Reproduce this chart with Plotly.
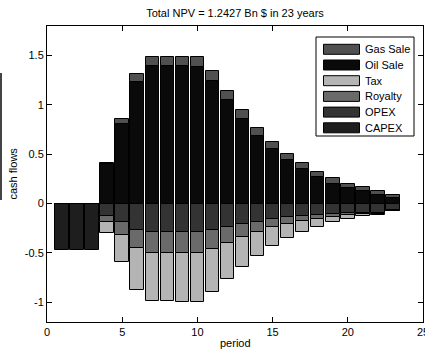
import plotly.graph_objects as go

periods = list(range(1, 24))
gas_sale = [0, 0, 0, 0.015, 0.05, 0.08, 0.095, 0.095, 0.095, 0.11, 0.10, 0.09, 0.09,
            0.08, 0.07, 0.06, 0.06, 0.055, 0.055, 0.045, 0.04, 0.045, 0.035]
oil_sale = [0, 0, 0, 0.40, 0.81, 1.23, 1.39, 1.39, 1.39, 1.38, 1.24, 1.05, 0.86,
            0.69, 0.55, 0.44, 0.35, 0.27, 0.20, 0.155, 0.125, 0.085, 0.055]
tax = [0, 0, 0, -0.11, -0.27, -0.43, -0.49, -0.49, -0.50, -0.50, -0.435, -0.365, -0.305,
       -0.243, -0.19, -0.14, -0.111, -0.08, -0.053, -0.037, -0.022, -0.014, -0.01]
royalty = [0, 0, 0, -0.06, -0.13, -0.18, -0.21, -0.21, -0.21, -0.21, -0.19, -0.155, -0.13,
           -0.097, -0.08, -0.07, -0.048, -0.04, -0.032, -0.02, -0.012, -0.006, -0.005]
opex = [0, 0, 0, -0.13, -0.19, -0.27, -0.29, -0.29, -0.29, -0.29, -0.27, -0.24, -0.21,
        -0.19, -0.16, -0.14, -0.128, -0.115, -0.105, -0.098, -0.095, -0.095, -0.065]
capex = [-0.47, -0.47, -0.47, 0, 0, 0, 0, 0, 0, 0, 0, 0, 0,
         0, 0, 0, 0, 0, 0, 0, 0, 0, 0]

legend_names = ["Gas Sale", "Oil Sale", "Tax", "Royalty", "OPEX", "CAPEX"]
colors = {"Gas Sale": "#505050", "Oil Sale": "#0a0a0a", "Tax": "#b4b4b4",
          "Royalty": "#6a6a6a", "OPEX": "#333333", "CAPEX": "#1e1e1e"}

x_ticks = [0, 5, 10, 15, 20, 25]
y_ticks = [-1, -0.5, 0, 0.5, 1, 1.5]
y_ticktext = ["-1", "-0.5", "0", "0.5", "1", "1.5"]

title_text = "Total NPV = 1.2427 Bn $ in 23 years"
x_title = "period"
y_title = "cash flows"

FONT = "Arial, Liberation Sans, sans-serif"
W, H = 425, 354
L, R, T, B = 47, 2, 26, 32

fig = go.Figure()
series = [("CAPEX", capex), ("OPEX", opex), ("Royalty", royalty), ("Tax", tax),
          ("Oil Sale", oil_sale), ("Gas Sale", gas_sale)]
for name, vals in series:
    fig.add_trace(go.Bar(
        x=periods, y=vals, name=name, width=0.9,
        marker=dict(color=colors[name], line=dict(color="#000000", width=1)),
        showlegend=False,
    ))

# custom legend in paper coordinates (pixel positions converted)
pw, ph = W - L - R, H - T - B
def px(xp):
    return (xp - L) / pw
def py(yp):
    return (H - B - yp) / ph

shapes = []
annotations = []
shapes.append(dict(type="rect", xref="paper", yref="paper",
                   x0=px(316), x1=px(414), y0=py(136), y1=py(37),
                   line=dict(color="#000000", width=1), fillcolor="#ffffff", layer="above"))
for i, name in enumerate(legend_names):
    cy = 49.3 + i * 15.7
    shapes.append(dict(type="rect", xref="paper", yref="paper",
                       x0=px(323.5), x1=px(359.5), y0=py(cy + 5), y1=py(cy - 5),
                       line=dict(color="#000000", width=1), fillcolor=colors[name], layer="above"))
    annotations.append(dict(xref="paper", yref="paper", x=px(362.5), y=py(cy),
                            xanchor="left", yanchor="middle", text=name, showarrow=False,
                            font=dict(family=FONT, size=11, color="#000000")))

# axis titles
annotations.append(dict(xref="paper", yref="paper", x=px(235), y=py(343),
                        xanchor="center", yanchor="middle", text=x_title, showarrow=False,
                        font=dict(family=FONT, size=11, color="#000000")))
annotations.append(dict(xref="paper", yref="paper", x=px(12.5), y=py(174),
                        xanchor="center", yanchor="middle", text=y_title, showarrow=False,
                        textangle=-90, font=dict(family=FONT, size=11, color="#000000")))

# stray vertical line at far left (clipped element in reference)
shapes.append(dict(type="line", xref="paper", yref="paper",
                   x0=px(1), x1=px(1), y0=py(200), y1=py(73),
                   line=dict(color="#444444", width=2)))

fig.update_layout(
    width=W, height=H,
    margin=dict(l=L, r=R, t=T, b=B, autoexpand=False),
    paper_bgcolor="#ffffff", plot_bgcolor="#ffffff",
    barmode="relative", bargap=0,
    font=dict(family=FONT, size=11, color="#000000"),
    title=dict(text=title_text, x=px(235), xref="paper", y=1 - 13 / H, yanchor="middle",
               xanchor="center", font=dict(family=FONT, size=11, color="#000000")),
    shapes=shapes, annotations=annotations,
    xaxis=dict(range=[0, 25], tickvals=x_ticks, ticks="inside", ticklen=5,
               tickcolor="#000000", showline=True, linecolor="#000000", linewidth=1,
               mirror="allticks", showgrid=False, zeroline=False, automargin=False,
               ticklabeloverflow="allow", tickfont=dict(family=FONT, size=11)),
    yaxis=dict(range=[-1.2, 1.8], tickvals=y_ticks, ticktext=y_ticktext, ticks="inside",
               ticklen=5, tickcolor="#000000", showline=True, linecolor="#000000",
               linewidth=1, mirror="allticks", showgrid=False, zeroline=False,
               automargin=False, tickfont=dict(family=FONT, size=11)),
)

fig.write_html("out.html", config={"displayModeBar": False},
               post_script="document.body.style.margin='0';")
